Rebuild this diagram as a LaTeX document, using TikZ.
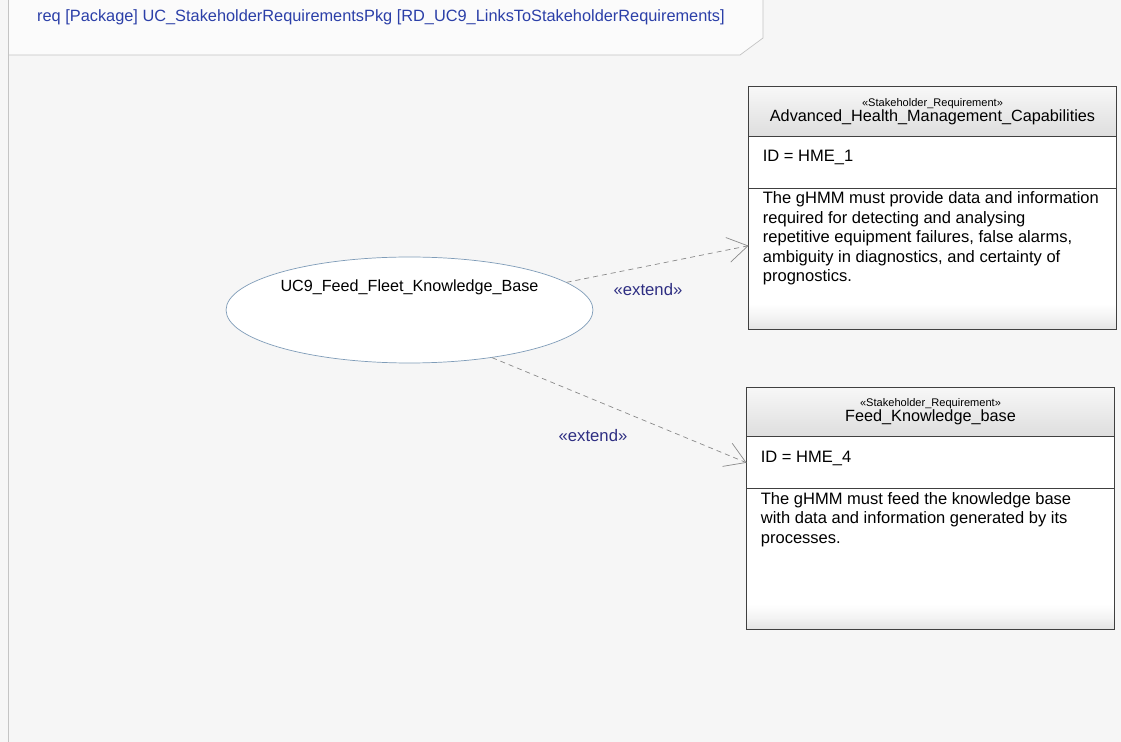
\documentclass[tikz,border=0pt]{standalone}
\usepackage{fontspec}
\setmainfont{Liberation Sans}
\usepackage{xcolor}
\usepackage{tikz}
\usetikzlibrary{shapes.geometric}
\usetikzlibrary{arrows.meta}
\usetikzlibrary{positioning}
\definecolor{bgc}{HTML}{F6F6F6}
\definecolor{framec}{HTML}{C4C4C4}
\definecolor{titlec}{HTML}{2B3FA8}
\definecolor{stereoc}{HTML}{2E2E82}
\definecolor{edgec}{HTML}{404040}
\definecolor{ucc}{HTML}{7F9CB8}
\definecolor{linkc}{HTML}{8A8A8A}
\newcommand{\stereofont}{\fontsize{6.3}{7}\selectfont}
\pgfdeclareverticalshading{reqfade}{100bp}{color(0bp)=(black!11); color(25bp)=(black!11); color(29bp)=(black!5); color(34bp)=(white); color(100bp)=(white)}

\begin{document}
\begin{tikzpicture}[x=0.02cm,y=-0.02cm,
  usecase/.style={ellipse,draw=ucc,fill=white,minimum width=7.34cm,minimum height=2.12cm,inner sep=0pt},
  part/.style={draw=edgec,line width=0.8pt,minimum width=7.36cm,inner sep=0pt,outer sep=0pt},
  reqhead/.style={part,top color=black!3,bottom color=black!13,minimum height=0.99cm,align=center,font=\fontsize{9.25}{10}\selectfont},
  reqid/.style={part,fill=white,minimum height=1.04cm},
  reqbody/.style={part,shade,shading=reqfade,shading angle=0,minimum height=2.82cm},
  idtext/.style={anchor=north west,inner sep=0pt,xshift=0.28cm,yshift=-0.28cm,font=\fontsize{9.4}{11.1}\selectfont},
  bodytext/.style={anchor=north west,inner sep=0pt,xshift=0.28cm,yshift=-0.06cm,align=left,font=\fontsize{9.4}{11.1}\selectfont},
  ext/.style={draw=linkc,dash pattern=on 0.1cm off 0.08cm,-{Straight Barb[length=0.4cm,width=0.5cm]}},
  extlabel/.style={text=stereoc,font=\fontsize{9.5}{10}\selectfont}
]
% Background and frame
\fill[bgc] (0,0) rectangle (1121,742);
\useasboundingbox (0,0) rectangle (1121,742);
\fill[white!55!bgc] (8,0) -- (763,0) -- (763,38) -- (740,55) -- (8,55) -- cycle;
\draw[framec] (8,0) -- (8,742);
\draw[framec] (8,55) -- (740,55) -- (763,38) -- (763,0);
\node[anchor=west,text=titlec,font=\fontsize{9.3}{10}\selectfont] (title) at (31,17)
  {req [Package] UC\_StakeholderRequirementsPkg [RD\_UC9\_LinksToStakeholderRequirements]};
% Use case
\node[usecase,label={[name=ucname,yshift=0.46cm,font=\fontsize{9.2}{10}\selectfont]center:UC9\_Feed\_Fleet\_Knowledge\_Base}] (uc) at (409.5,310) {};
% Requirement HME_1
\node[reqhead] (hme1head) at (932.5,111.5) {{\stereofont «Stakeholder\_Requirement»}\\[-1.5pt]Advanced\_Health\_Management\_Capabilities};
\node[reqid,below=0pt of hme1head] (hme1id) {};
\node[reqbody,below=0pt of hme1id] (hme1body) {};
\node[idtext] (hme1idt) at (hme1id.north west) {ID = HME\_1};
\node[bodytext] (hme1txt) at (hme1body.north west) {The gHMM must provide data and information\\required for detecting and analysing\\repetitive equipment failures, false alarms,\\ambiguity in diagnostics, and certainty of\\prognostics.};
% Requirement HME_4
\node[reqhead] (hme4head) at (930.5,412) {{\stereofont «Stakeholder\_Requirement»}\\[-1.5pt]Feed\_Knowledge\_base};
\node[reqid,below=0pt of hme4head] (hme4id) {};
\node[reqbody,below=0pt of hme4id] (hme4body) {};
\node[idtext] (hme4idt) at (hme4id.north west) {ID = HME\_4};
\node[bodytext] (hme4txt) at (hme4body.north west) {The gHMM must feed the knowledge base\\with data and information generated by its\\processes.};
% Extend links
\draw[ext] (uc.10.7) -- ([yshift=0.26cm]hme1body.west);
\draw[ext] (uc.-30) -- (hme4id.west);
\node[extlabel] (ext1) at (648,290) {«extend»};
\node[extlabel] (ext2) at (593,436) {«extend»};
\end{tikzpicture}
\end{document}
